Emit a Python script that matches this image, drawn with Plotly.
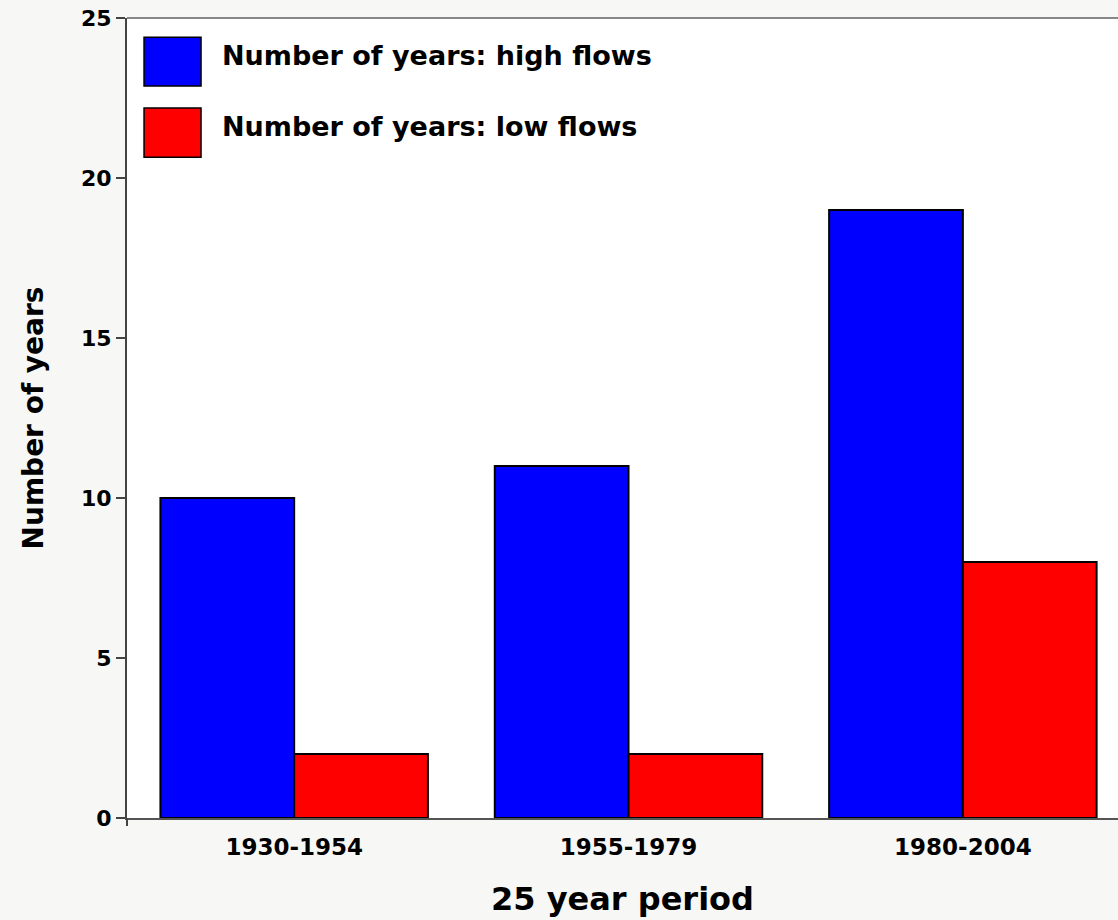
import plotly.graph_objects as go

periods = ["1930-1954", "1955-1979", "1980-2004"]
high_flows = [10, 11, 19]
low_flows = [2, 2, 8]
series_names = ["Number of years: high flows", "Number of years: low flows"]
series_colors = ["#0000FF", "#FF0000"]
y_ticks = [0, 5, 10, 15, 20, 25]

FONT = "DejaVu Sans, sans-serif"

fig = go.Figure()
for name, vals, col in zip(series_names, [high_flows, low_flows], series_colors):
    fig.add_trace(go.Bar(
        x=periods, y=vals, name=name,
        marker=dict(color=col, line=dict(color="black", width=2)),
        showlegend=False,
    ))

# manual legend with large swatches
sw_y = [(0.915, 0.976), (0.826, 0.8875)]
txt_y = [0.9525, 0.864]
for i, (name, col) in enumerate(zip(series_names, series_colors)):
    fig.add_shape(type="rect", xref="paper", yref="paper",
                  x0=0.0172, x1=0.0747, y0=sw_y[i][0], y1=sw_y[i][1],
                  fillcolor=col, line=dict(color="black", width=1.5))
    fig.add_annotation(xref="paper", yref="paper", x=0.0938, y=txt_y[i],
                       text=name, showarrow=False, xanchor="left",
                       yanchor="middle",
                       font=dict(family=FONT, size=27, color="black", weight="bold"))

# top border
fig.add_shape(type="line", xref="paper", yref="paper", x0=0, x1=1, y0=1, y1=1,
              line=dict(color="#888888", width=2))
# small extension of y axis below zero
fig.add_shape(type="line", xref="paper", yref="paper", x0=0, x1=0, y0=-0.01, y1=0,
              line=dict(color="#444444", width=2))

fig.update_layout(
    width=1118, height=920,
    margin=dict(l=127, r=0, t=18, b=102),
    paper_bgcolor="#F7F7F5", plot_bgcolor="white",
    barmode="group", bargap=0.2, bargroupgap=0,
    font=dict(family=FONT, color="black"),
    xaxis=dict(
        range=[-0.5, 2.464], showline=True, linecolor="#555555", linewidth=2,
        ticks="", showgrid=False, ticklabelstandoff=7,
        tickfont=dict(family=FONT, size=23, color="black", weight="bold"),
        title=dict(text="25 year period", font=dict(family=FONT, size=32, weight="bold"), standoff=29),
    ),
    yaxis=dict(
        range=[0, 25], tickvals=y_ticks, showline=True, linecolor="#444444", linewidth=2,
        ticks="outside", ticklen=9, tickcolor="#444444", tickwidth=1.5,
        showgrid=False, zeroline=False, ticklabeloverflow="allow", automargin=False,
        tickfont=dict(family=FONT, size=22, color="black", weight="bold"),
        title=dict(text="Number of years", font=dict(family=FONT, size=28, weight="bold"), standoff=29),
    ),
)

fig.write_html("out.html", config={"displayModeBar": False},
               post_script="document.body.style.margin='0';")
